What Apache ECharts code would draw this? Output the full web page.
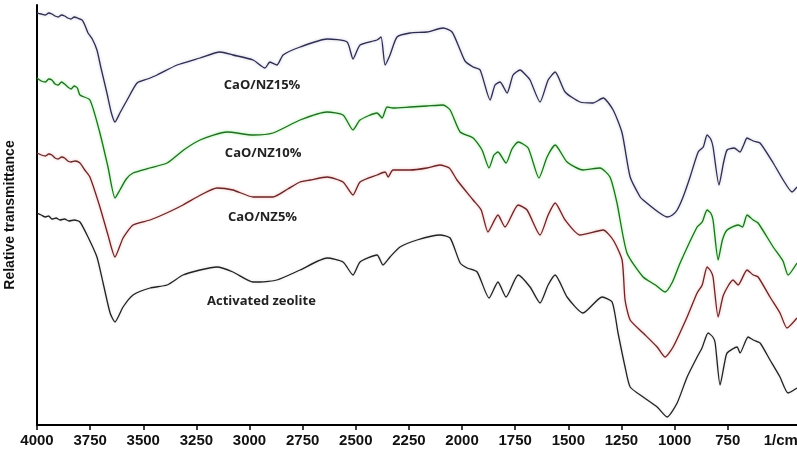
<!DOCTYPE html>
<html>
<head>
<meta charset="utf-8">
<script src="https://cdn.jsdelivr.net/npm/echarts@6/dist/echarts.min.js"></script>
<style>
  html, body {margin: 0; padding: 0; background: #fff;}
  #chart {width: 797px; height: 453px;}
</style>
</head>
<body>
<div id="chart"></div>
<script>
// wavenumber (1/cm), relative transmittance (arbitrary units)
const nz15 = [
  [4000,412],[3980,411],[3960,410],[3945,412],[3930,411],[3915,409],[3900,408],[3885,410],
  [3870,409],[3855,407],[3840,406],[3825,408],[3810,407],[3788,405],[3775,400],
  [3760,392],[3740,386],[3718,375],[3700,358],[3671,332],[3650,312],[3633,303],[3610,312],
  [3576,325],[3529,342],[3480,346],[3435,350],[3341,360],
  [3233,367],[3139,373],[3078,370],[2983,365],[2927,357],[2904,363],[2871,360],[2842,370],
  [2762,378],[2635,386],[2541,383],[2513,366],[2480,380],[2400,385],[2381,388],[2362,360],
  [2339,370],[2306,388],[2245,392],[2165,393],[2089,397],[2047,393],[2009,375],[1986,364],
  [1948,358],[1915,355],[1868,325],[1845,340],[1821,343],[1788,332],[1760,350],[1727,355],[1700,350],[1680,345],[1633,323],
  [1595,345],[1562,353],[1515,333],[1445,323],[1384,322],[1336,327],[1289,315],[1247,292],[1209,248],
  [1162,228],[1148,225],[1077,213],[1035,208],[1010,210],[988,215],[960,228],[927,248],[889,273],[865,278],[847,290],
  [830,286],[819,278],[791,240],[770,262],[753,275],[720,277],[692,273],[675,280],[659,287],[630,284],[598,282],[536,262],[489,245],
  [447,233],[424,238]
];
const nz10 = [
  [4000,347],[3980,344],[3960,343],[3945,346],[3930,345],[3915,341],[3900,340],[3885,343],
  [3870,341],[3855,338],[3840,336],[3825,339],[3810,337],[3798,330],
  [3751,325],[3704,292],[3666,258],[3633,227],[3610,235],[3580,246],[3548,252],[3470,257],[3388,262],[3310,275],[3233,285],
  [3106,293],[2983,290],[2890,292],[2762,305],[2635,313],[2560,310],[2513,295],[2480,305],
  [2400,312],[2376,307],[2353,318],[2325,317],[2245,318],[2165,319],[2089,320],[2056,315],
  [2009,293],[1948,287],[1906,275],[1873,257],[1850,270],[1831,273],[1793,262],[1765,276],[1736,283],[1689,277],
  [1638,247],[1600,268],[1562,280],[1506,263],[1431,255],[1351,257],[1304,248],[1271,222],[1224,172],
  [1148,148],[1090,140],[1045,133],[1010,143],[974,162],[894,198],[870,203],[847,215],[830,212],[819,205],[795,165],[775,185],[753,195],
  [701,200],[680,198],[659,210],[630,205],[607,202],[536,178],[490,164],[466,150],[424,162]
];
const nz5 = [
  [4000,272],[3980,270],[3960,269],[3945,271],[3930,270],[3915,267],[3900,266],[3885,268],
  [3870,267],[3855,264],[3840,263],[3820,264],[3798,262],[3775,255],[3751,248],
  [3704,218],[3666,190],[3633,168],[3595,187],[3548,200],[3468,205],[3390,212],[3313,220],[3230,230],[3153,237],
  [3078,235],[2983,228],[2890,228],[2820,236],[2762,243],[2715,245],[2635,248],[2560,243],[2513,230],
  [2480,243],[2400,250],[2362,253],[2348,248],[2325,255],[2245,255],[2165,257],[2104,260],
  [2060,257],[2024,245],[1948,225],[1910,215],[1878,193],[1831,210],[1798,198],[1736,220],[1694,215],[1633,190],
  [1595,210],[1562,222],[1515,205],[1445,190],[1336,195],[1289,185],[1247,165],[1233,125],[1209,105],
  [1148,92],[1082,78],[1045,68],[1007,78],[941,108],[894,132],[870,140],[847,158],[830,154],[819,148],
  [795,108],[770,130],[725,145],[701,140],[659,155],[630,150],[607,148],[551,128],[504,112],[471,97],[424,107]
];
const zeolite = [
  [4000,212],[3980,210],[3960,208],[3945,209],[3930,206],[3910,207],[3892,205],[3870,206],[3850,204],[3825,205],[3798,203],[3760,188],[3718,168],
  [3689,142],[3656,112],[3633,103],[3595,118],[3548,130],[3468,137],[3388,140],[3313,150],
  [3233,155],[3153,158],[3078,153],[2983,143],[2951,143],[2871,145],[2762,155],[2635,167],
  [2560,163],[2513,150],[2480,163],[2400,170],[2372,160],[2339,168],[2292,178],[2212,185],
  [2104,190],[2056,187],[2009,162],[1976,157],[1929,153],[1873,127],[1831,143],[1793,128],
  [1736,150],[1680,138],[1633,122],[1595,140],[1562,150],[1506,128],[1431,112],[1341,128],[1294,123],
  [1266,92],[1233,58],[1209,38],[1148,28],[1082,18],[1035,8],[988,22],[941,48],
  [894,68],[871,77],[842,92],[820,88],[809,82],[786,40],[765,62],[753,72],[706,78],[692,72],
  [654,88],[630,85],[598,82],[551,65],[504,48],[466,32],[424,37]
];
const seriesNames = ['CaO/NZ15%', 'CaO/NZ10%', 'CaO/NZ5%', 'Activated zeolite'];
const seriesColors = ['#2d2d52', '#1f6f1f', '#6a2626', '#222222'];
const glowColors = ['rgba(80,80,140,0.35)', 'rgba(40,220,40,0.55)', 'rgba(230,90,90,0.5)', 'rgba(0,0,0,0.15)'];
const labelAt = [[2941,340],[2936,272],[2939,208],[2944,124]];
const xTicks = [4000,3750,3500,3250,3000,2750,2500,2250,2000,1750,1500,1250,1000,750];
const xLabels = xTicks.concat([500]);

const allData = [nz15, nz10, nz5, zeolite];

const chart = echarts.init(document.getElementById('chart'));

const series = allData.map((d, i) => ({
  name: seriesNames[i],
  type: 'line',
  data: d,
  showSymbol: false,
  symbol: 'none',
  smooth: 0.2,
  lineStyle: {
    color: seriesColors[i],
    width: 1.3,
    shadowColor: glowColors[i],
    shadowBlur: 3
  },
  markPoint: {
    symbolSize: 0,
    silent: true,
    data: [{coord: labelAt[i], value: seriesNames[i]}],
    label: {
      show: true,
      position: 'inside',
      formatter: seriesNames[i],
      color: '#222',
      fontWeight: 'bold',
      fontSize: 13,
      fontFamily: 'Open Sans'
    }
  }
}));

chart.setOption({
  animation: false,
  backgroundColor: '#fff',
  grid: {left: 37, right: 0, top: 5, bottom: 28, containLabel: false, outerBoundsMode: 'none'},
  xAxis: {
    type: 'value',
    inverse: true,
    min: 424,
    max: 4000,
    splitLine: {show: false},
    axisLine: {lineStyle: {color: '#000', width: 2}},
    axisTick: {
      show: true,
      length: 5,
      customValues: xTicks,
      lineStyle: {color: '#000', width: 1.5}
    },
    axisLabel: {
      customValues: xLabels,
      margin: 8,
      color: '#111',
      fontWeight: 'bold',
      fontSize: 15,
      fontFamily: 'Liberation Sans',
      formatter: v => v === 500 ? '1/cm' : String(v)
    }
  },
  yAxis: {
    type: 'value',
    min: 0,
    max: 420,
    name: 'Relative transmittance',
    nameLocation: 'middle',
    nameGap: 20,
    nameTextStyle: {
      color: '#111',
      fontWeight: 'bold',
      fontSize: 14,
      fontFamily: 'Liberation Sans'
    },
    splitLine: {show: false},
    axisTick: {show: false},
    axisLabel: {show: false},
    axisLine: {show: true, lineStyle: {color: '#000', width: 2}}
  },
  series: series
});
</script>
</body>
</html>
